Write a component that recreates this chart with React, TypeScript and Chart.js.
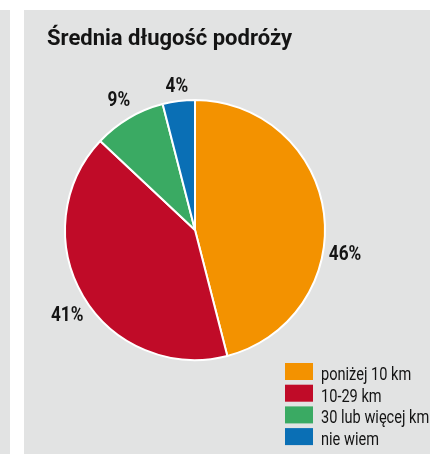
import React, { useEffect, useRef } from "react";
import { Chart, registerables } from "chart.js";

Chart.register(...registerables);

const title = "Średnia długość podróży";
const categories = ["poniżej 10 km", "10-29 km", "30 lub więcej km", "nie wiem"];
const values = [46, 41, 9, 4];
const valueLabels = ["46%", "41%", "9%", "4%"];
const colors = ["#f39200", "#c00b28", "#3aaa63", "#0a6fb5"];

const FONT = "Roboto, 'Liberation Sans', sans-serif";

function squeezedText(
  ctx: CanvasRenderingContext2D,
  text: string,
  x: number,
  y: number,
  align: "left" | "center",
  sx: number
) {
  ctx.save();
  ctx.translate(x, y);
  ctx.scale(sx, 1);
  ctx.textAlign = align;
  ctx.fillText(text, 0, 0);
  ctx.restore();
}

const overlayPlugin = {
  id: "overlay",
  afterDraw(chart: any) {
    const ctx = chart.ctx as CanvasRenderingContext2D;
    ctx.save();
    // title
    ctx.fillStyle = "#141414";
    ctx.font = `bold 22px ${FONT}`;
    ctx.textBaseline = "alphabetic";
    squeezedText(ctx, title, 47, 45, "left", 1.0);

    // value labels
    const meta = chart.getDatasetMeta(0);
    const angleShift = [0.29, -0.058, 0, 0];
    const radFactor = [1.17, 1.185, 1.15, 1.11];
    ctx.font = `bold 20px ${FONT}`;
    ctx.textBaseline = "middle";
    meta.data.forEach((arc: any, i: number) => {
      const p = arc.getProps(["x", "y", "startAngle", "endAngle", "outerRadius"], true);
      const mid = (p.startAngle + p.endAngle) / 2 + angleShift[i];
      const r = p.outerRadius * radFactor[i];
      squeezedText(ctx, valueLabels[i], p.x + Math.cos(mid) * r, p.y + Math.sin(mid) * r, "center", 0.86);
    });

    // legend
    ctx.font = `18px ${FONT}`;
    ctx.textBaseline = "alphabetic";
    categories.forEach((c, i) => {
      const y = 363 + i * 21.7;
      ctx.fillStyle = colors[i];
      ctx.fillRect(285, y, 28, 17);
      ctx.fillStyle = "#141414";
      squeezedText(ctx, c, 321, y + 17, "left", 0.81);
    });
    ctx.restore();
  },
};

export default function App() {
  const ref = useRef<HTMLCanvasElement>(null);
  useEffect(() => {
    document.body.style.margin = "0";
    const chart = new Chart(ref.current!, {
      type: "pie",
      data: {
        labels: categories,
        datasets: [
          {
            data: values,
            backgroundColor: colors,
            borderColor: "#ffffff",
            borderWidth: 2,
          },
        ],
      },
      options: {
        animation: false,
        responsive: false,
        layout: { padding: { left: 64, right: 104, top: 99, bottom: 93 } },
        plugins: {
          legend: { display: false },
          tooltip: { enabled: false },
          title: { display: false },
        },
      },
      plugins: [overlayPlugin],
    });
    return () => chart.destroy();
  }, []);
  return (
    <div style={{ position: "relative", width: 430, height: 454, background: "#ffffff", overflow: "hidden" }}>
      <div style={{ position: "absolute", left: 0, top: 10, width: 10, height: 444, background: "#e2e3e3" }} />
      <div style={{ position: "absolute", left: 24, top: 10, width: 406, height: 444, background: "#e2e3e3" }} />
      <canvas ref={ref} width={430} height={454} style={{ position: "absolute", left: 0, top: 0 }} />
    </div>
  );
}
